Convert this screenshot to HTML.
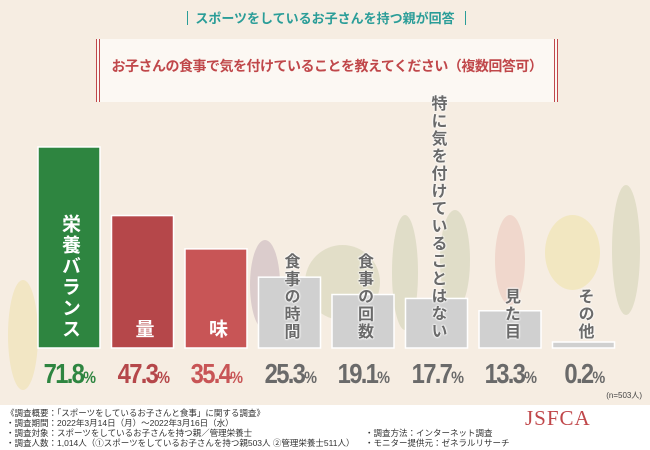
<!DOCTYPE html>
<html><head><meta charset="utf-8">
<style>
body{margin:0;width:650px;height:450px;overflow:hidden;background:#f6ede2;font-family:"Liberation Sans","Noto Sans CJK JP",sans-serif;position:relative}
#top{position:absolute;left:0;top:0;width:650px;height:405px;background:#f6ede2}
.sub{position:absolute;top:8px;left:0;width:650px;text-align:center;color:#2a9d98;font-weight:bold;font-size:13px}
.sub .bar{position:absolute;top:3px;width:1px;height:14px;background:#2a9d98}
.title{position:absolute;box-sizing:border-box;left:96px;top:39px;width:462px;height:63px;background:#fcf8f3;border-left:4px double #c0474a;border-right:4px double #c0474a}
.title span{display:block;text-align:center;line-height:55px;color:#c0474a;font-weight:bold;font-size:14px;white-space:nowrap;letter-spacing:-0.5px}
.veg{position:absolute;border-radius:50%;opacity:.25}
.lbl{position:absolute;writing-mode:vertical-rl;font-weight:bold;font-size:16px;line-height:20px;letter-spacing:1.5px;text-shadow:0 0 2px #fff,0 0 2px #fff,0 0 2px #fff}
.val{position:absolute;top:358px;width:74px;text-align:center;font-weight:bold;font-size:28px;letter-spacing:-2px;transform:scaleX(.85)}
.val small{font-size:17px}
#foot{position:absolute;left:0;top:405px;width:650px;height:45px;background:#fff;font-size:8.5px;color:#333;line-height:10px}
</style></head><body>
<div id="top">
<div class="veg" style="left:8px;top:280px;width:30px;height:110px;background:#e8d36a"></div>
<div class="veg" style="left:250px;top:240px;width:30px;height:90px;background:#8c6a8a"></div>
<div class="veg" style="left:305px;top:245px;width:75px;height:75px;background:#a7b27a"></div>
<div class="veg" style="left:392px;top:215px;width:26px;height:115px;background:#9fb07a"></div>
<div class="veg" style="left:440px;top:210px;width:30px;height:100px;background:#9fb07a"></div>
<div class="veg" style="left:495px;top:215px;width:30px;height:90px;background:#e0998a"></div>
<div class="veg" style="left:545px;top:215px;width:55px;height:75px;background:#e9d660"></div>
<div class="veg" style="left:612px;top:185px;width:28px;height:130px;background:#a7b27a"></div>
</div>
<div class="sub"><i class="bar" style="left:187px"></i>スポーツをしているお子さんを持つ親が回答<i class="bar" style="left:465px"></i></div>
<div class="title"><span>お子さんの食事で気を付けていることを教えてください（複数回答可）</span></div>
<svg id="chart" width="650" height="405" style="position:absolute;left:0;top:0"></svg>
<div id="labels"></div>
<div style="position:absolute;right:8px;top:390px;font-size:8px;color:#444">(n=503人)</div>
<div id="foot">
<div style="position:absolute;left:6px;top:3px">《調査概要：「スポーツをしているお子さんと食事」に関する調査》<br>・調査期間：2022年3月14日（月）～2022年3月16日（水）<br>・調査対象：スポーツをしているお子さんを持つ親／管理栄養士<br>・調査人数：1,014人（①スポーツをしているお子さんを持つ親503人 ②管理栄養士511人）</div>
<div style="position:absolute;left:365px;top:23px">・調査方法：インターネット調査<br>・モニター提供元：ゼネラルリサーチ</div>
<div style="position:absolute;left:525px;top:8px;font-family:'Liberation Serif',serif;font-size:21px;color:#c0474a;letter-spacing:1px">JSFCA</div>
</div>
<script>
const categories=["栄養バランス","量","味","食事の時間","食事の回数","特に気を付けていることはない","見た目","その他"];
const values=[71.8,47.3,35.4,25.3,19.1,17.7,13.3,0.2];
const valueLabels=["71.8","47.3","35.4","25.3","19.1","17.7","13.3","0.2"];
const colors=["#2e8540","#b5474a","#c85556","#d0d0d0","#d0d0d0","#d0d0d0","#d0d0d0","#d0d0d0"];
const textColors=["#2e8540","#b5474a","#c85556","#6a6a6a","#6a6a6a","#6a6a6a","#6a6a6a","#6a6a6a"];
const baseY=348, pxPer=2.8, x0=38, slot=73.5, bw=62;
const xs=i=>x0+i*slot;
const ys=v=>baseY-Math.max(v*pxPer,6);
const svg=document.getElementById('chart');
const L=document.getElementById('labels');
values.forEach((v,i)=>{
 const r=document.createElementNS('http://www.w3.org/2000/svg','rect');
 r.setAttribute('x',xs(i));r.setAttribute('y',ys(v));r.setAttribute('width',bw);r.setAttribute('height',baseY-ys(v));
 r.setAttribute('fill',colors[i]);r.setAttribute('stroke','#fff');r.setAttribute('stroke-width','1.5');
 
 
 svg.appendChild(r);
 const l=document.createElement('div');
 l.className='lbl';l.textContent=categories[i];
 const white=i<3;
 l.style.color=white?'#fff':'#6a6a6a';
 if(white){l.style.textShadow='none';l.style.fontSize='19px';l.style.letterSpacing='2px';}
 l.style.left=(xs(i)+bw/2-10)+'px';
 l.style.bottom=(450-340)+'px';
 
 
 L.appendChild(l);
 const t=document.createElement('div');
 t.className='val';t.style.left=(xs(i)-6)+'px';t.style.color=textColors[i];
 t.innerHTML=valueLabels[i]+'<small>%</small>';
 
 
 L.appendChild(t);
});
</script>
</body></html>
